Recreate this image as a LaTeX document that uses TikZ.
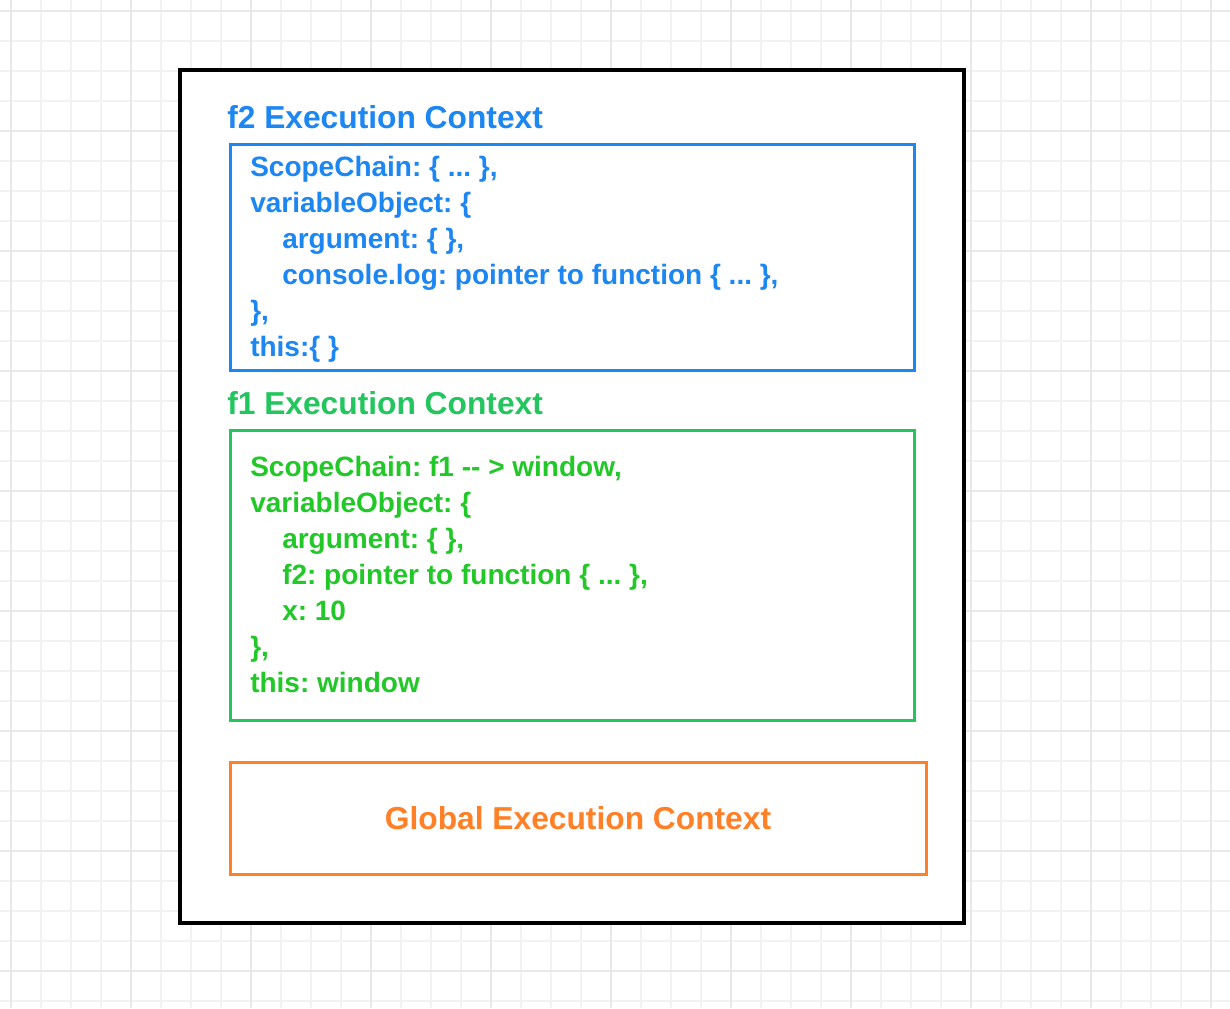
\documentclass[tikz,border=0pt]{standalone}
\usepackage{fontspec}
\newfontfamily\ecfont{Liberation Sans}
\frenchspacing
\definecolor{ecblue}{RGB}{28,134,242}
\definecolor{ecgreen}{RGB}{34,197,94}
\definecolor{eccode}{RGB}{34,200,40}
\definecolor{ecorange}{RGB}{255,128,38}
\definecolor{gridminor}{RGB}{242,242,242}
\definecolor{gridmajor}{RGB}{232,232,232}

\begin{document}
\begin{tikzpicture}[x=0.75pt,y=-0.75pt,
		title/.style={anchor=base west,inner sep=0pt,font=\ecfont\bfseries\fontsize{23.8}{28}\selectfont},
		codeline/.style={anchor=base west,inner sep=0pt,font=\ecfont\bfseries\fontsize{21}{27}\selectfont},
		ctxbox/.style={line width=2.25pt}]
		\useasboundingbox (0,0) rectangle (1230,1008);
		\fill[white] (0,0) rectangle (1230,1008);
		% grid
		\foreach \x in {11,41,...,1230} \draw[gridminor,line width=1pt] (\x,0) -- (\x,1008);
		\foreach \y in {11,41,...,1008} \draw[gridminor,line width=1pt] (0,\y) -- (1230,\y);
		\foreach \x in {11,131,...,1230} \draw[gridmajor,line width=1pt] (\x,0) -- (\x,1008);
		\foreach \y in {11,131,...,1008} \draw[gridmajor,line width=1pt] (0,\y) -- (1230,\y);
		% stack
		\draw[fill=white,line width=2.6pt] (180,70) rectangle (964,923);
		% f2
		\node[title,text=ecblue] (f2title) at (227,128) {f2 Execution Context};
		\draw[ctxbox,ecblue] (230,144) rectangle (914,370);
		\node[codeline,text=ecblue] (f2scope) at (250,176) {ScopeChain: \{ ... \},};
		\node[codeline,text=ecblue] (f2vo) at (250,212) {variableObject: \{};
		\node[codeline,text=ecblue] (f2arg) at (282,248) {argument: \{ \},};
		\node[codeline,text=ecblue] (f2log) at (282,284) {console.log: pointer to function \{ ... \},};
		\node[codeline,text=ecblue] (f2end) at (250,320) {\},};
		\node[codeline,text=ecblue] (f2this) at (250,356) {this:\{ \}};
		% f1
		\node[title,text=ecgreen] (f1title) at (227,414) {f1 Execution Context};
		\draw[ctxbox,ecgreen] (230,430) rectangle (914,720);
		\node[codeline,text=eccode] (f1scope) at (250,476) {ScopeChain: f1 -- > window,};
		\node[codeline,text=eccode] (f1vo) at (250,512) {variableObject: \{};
		\node[codeline,text=eccode] (f1arg) at (282,548) {argument: \{ \},};
		\node[codeline,text=eccode] (f1f2) at (282,584) {f2: pointer to function \{ ... \},};
		\node[codeline,text=eccode] (f1x) at (282,620) {x: 10};
		\node[codeline,text=eccode] (f1end) at (250,656) {\},};
		\node[codeline,text=eccode] (f1this) at (250,692) {this: window};
		% global
		\draw[ctxbox,ecorange] (230,762) rectangle (926,874);
		\node[font=\ecfont\bfseries\fontsize{23.8}{28}\selectfont,text=ecorange] (global) at (578,818) {Global Execution Context};
\end{tikzpicture}
\end{document}
